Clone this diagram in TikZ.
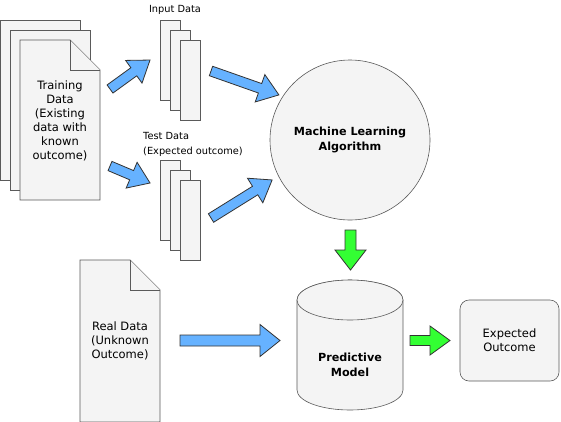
\documentclass[tikz,border=0pt]{standalone}
\usepackage{fontspec}
\setmainfont{DejaVu Sans}
\usetikzlibrary{shapes.geometric}
\definecolor{shapefill}{HTML}{F4F4F4}
\definecolor{shapeline}{HTML}{5A5A5A}
\definecolor{arrblue}{HTML}{66B2FF}
\definecolor{arrgreen}{HTML}{33FF33}
\tikzset{
  doc/.style={draw=shapeline, fill=shapefill, line width=0.9pt, line join=miter},
  maintext/.style={align=center, font=\fontsize{11.5}{14}\selectfont, inner sep=0pt},
  boldtext/.style={align=center, font=\fontsize{11.2}{15}\selectfont\bfseries, inner sep=0pt},
  labeltext/.style={font=\fontsize{9.8}{14.5}\selectfont, inner sep=0pt},
  blockarrow/.style={draw=black!80, line width=0.8pt, line join=miter},
}
% tail x, tail y, angle, length, shaft half, head half, fill colour
\newcommand{\blockarr}[7]{%
  \begin{scope}[shift={(#1,#2)}, rotate=#3]
    \draw[blockarrow, fill=#7] (0,#5) -- ({#4-20},#5) -- ({#4-20},#6) -- (#4,0)
      -- ({#4-20},-#6) -- ({#4-20},-#5) -- (0,-#5) -- cycle;
  \end{scope}}
\begin{document}
\begin{tikzpicture}[x=1pt, y=-1pt]
\useasboundingbox (0,0) rectangle (561,421);
\fill[white] (0,0) rectangle (561,421);

% training data stack
\draw[doc] (0,20) rectangle (80,180);
\draw[doc] (10,30) rectangle (90,190);
\draw[doc] (20,40) -- (70,40) -- (100,70) -- (100,200) -- (20,200) -- cycle;
\draw[doc] (70,40) -- (70,70) -- (100,70);
\node[maintext] (train) at (60,121) {Training\\Data\\(Existing\\data with\\known\\outcome)};

% input data stack
\draw[doc] (160,20) rectangle (180,100);
\draw[doc] (170,30) rectangle (190,110);
\draw[doc] (180,40) rectangle (200,120);
\node[labeltext] (inlabel) at (175,10) {Input Data};

% test data stack
\draw[doc] (160,160) rectangle (180,240);
\draw[doc] (170,170) rectangle (190,250);
\draw[doc] (180,180) rectangle (200,260);
\node[labeltext, align=left, anchor=west] (testlabel) at (143,144.5) {Test Data\\(Expected outcome)};

% machine learning algorithm
\node[circle, draw=shapeline, fill=shapefill, line width=0.6pt, minimum size=160pt, inner sep=0pt, boldtext] (ml) at (350,140) {Machine Learning\\Algorithm};

% real data
\draw[doc] (80,260) -- (130,260) -- (160,290) -- (160,422) -- (80,422) -- cycle;
\draw[doc] (130,260) -- (130,290) -- (160,290);
\node[maintext] (real) at (120,341) {Real Data\\(Unknown\\Outcome)};

% predictive model cylinder
\draw[doc, line width=0.6pt] (297,300) -- (297,390) arc[start angle=180, end angle=360, x radius=53pt, y radius=20pt]
  -- (403,300) arc[start angle=0, end angle=180, x radius=53pt, y radius=20pt] -- cycle;
\draw[doc, line width=0.6pt] (350,300) ellipse [x radius=53pt, y radius=20pt];
\node[boldtext] (model) at (350,365) {Predictive\\Model};

% expected outcome
\node[draw=shapeline, fill=shapefill, line width=0.6pt, rounded corners=9pt, minimum width=99pt, minimum height=81pt, maintext] (outcome) at (509.5,340.5) {Expected\\Outcome};

% block arrows
\blockarr{110}{89}{35.9}{49.4}{5}{14}{arrblue}
\blockarr{110}{166}{-23}{43.5}{5}{14}{arrblue}
\blockarr{211}{71}{-19.4}{72}{5}{14.5}{arrblue}
\blockarr{211}{218}{31.9}{72}{5}{14.5}{arrblue}
\blockarr{180}{340.5}{0}{100}{5.5}{16}{arrblue}
\blockarr{350.5}{230}{-90}{40}{5.5}{15.5}{arrgreen}
\blockarr{410}{340.5}{0}{40}{5}{14.5}{arrgreen}
\end{tikzpicture}
\end{document}
